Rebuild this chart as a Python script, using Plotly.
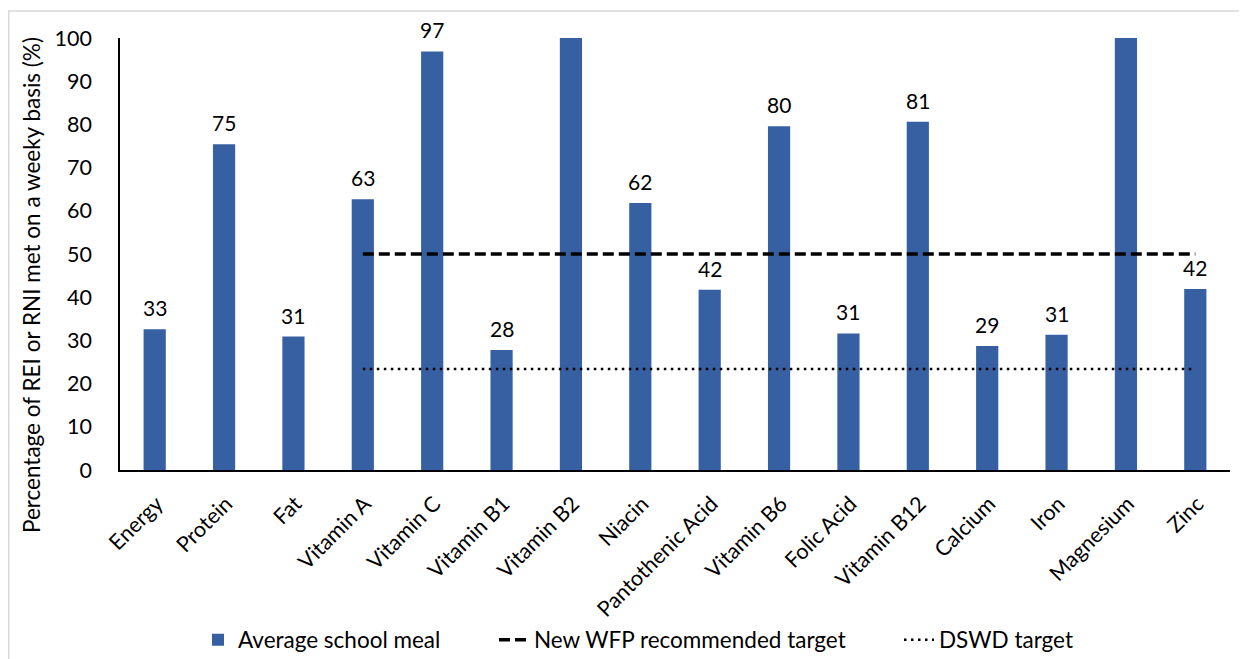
import plotly.graph_objects as go

categories = ["Energy", "Protein", "Fat", "Vitamin A", "Vitamin C", "Vitamin B1",
              "Vitamin B2", "Niacin", "Pantothenic Acid", "Vitamin B6", "Folic Acid",
              "Vitamin B12", "Calcium", "Iron", "Magnesium", "Zinc"]
meal_values = [32.6, 75.4, 30.9, 62.7, 96.9, 27.8, 100, 61.8, 41.7, 79.6, 31.6,
               80.6, 28.7, 31.3, 100, 41.9]
meal_labels = ["33", "75", "31", "63", "97", "28", "", "62", "42", "80", "31",
               "81", "29", "31", "", "42"]
target_categories = categories[3:]
wfp_target = [50] * len(target_categories)
dswd_target = [23.4] * len(target_categories)
y_ticks = [0, 10, 20, 30, 40, 50, 60, 70, 80, 90, 100]
y_title = "Percentage of REI or RNI met on a weeky basis (%)"

FONT = "Lato"
BLUE = "#3760A3"

# page body adds an 8px margin, so the figure is 8px smaller than the window
W, H = 1239, 651
ML, MT, MR, MB = 112, 30, 17, 189
PW = W - ML - MR
PH = H - MT - MB

fig = go.Figure()
fig.add_trace(go.Bar(
    x=categories, y=meal_values, name="Average school meal",
    marker=dict(color=BLUE, line=dict(width=0)),
    width=0.32, legend="legend",
))
fig.add_trace(go.Scatter(
    x=target_categories, y=wfp_target, mode="lines",
    name="New WFP recommended target",
    line=dict(color="black", width=3.5, dash="11px,5px"), legend="legend2",
))
fig.add_trace(go.Scatter(
    x=target_categories, y=dswd_target, mode="lines",
    name="DSWD target",
    line=dict(color="black", width=2.5, dash="2.5px,4.5px"), legend="legend3",
))

annotations = []
for cat, val, lab in zip(categories, meal_values, meal_labels):
    if lab:
        annotations.append(dict(x=cat, y=val, xref="x", yref="y", text=lab,
                                showarrow=False, yanchor="bottom", yshift=7,
                                font=dict(family=FONT, size=21, color="black")))
annotations.append(dict(x=(23 - ML) / PW, y=1 - (277 - MT) / PH, xref="paper", yref="paper",
                        text=y_title, showarrow=False, textangle=-90,
                        xanchor="center", yanchor="middle",
                        font=dict(family=FONT, size=22.5, color="black")))

leg_y = 1 - (632 - MT) / PH
leg_common = dict(orientation="h", yanchor="middle", xanchor="left", y=leg_y,
                  font=dict(family=FONT, size=22.5, color="black"),
                  bgcolor="rgba(0,0,0,0)", itemwidth=30)

fig.update_layout(
    width=W, height=H,
    margin=dict(l=ML, r=MR, t=MT, b=MB, autoexpand=False),
    paper_bgcolor="white", plot_bgcolor="white",
    font=dict(family=FONT, size=18, color="black"),
    showlegend=True,
    legend=dict(leg_common, x=(190 - ML) / PW),
    legend2=dict(leg_common, x=(486 - ML) / PW),
    legend3=dict(leg_common, x=(891 - ML) / PW),
    xaxis=dict(
        showline=True, linecolor="black", linewidth=1.5, automargin=False,
        tickangle=-45, ticks="", showgrid=False,
        ticklabelstandoff=11, ticklabelshift=2,
        tickfont=dict(family=FONT, size=21.5, color="black"),
        range=[-0.5, 15.5],
    ),
    yaxis=dict(
        range=[0, 100], tickvals=y_ticks, showline=True, linecolor="black",
        linewidth=1.5, showgrid=False, zeroline=False, ticks="", automargin=False,
        ticklabelstandoff=22,
        tickfont=dict(family=FONT, size=21.5, color="black"),
    ),
    annotations=annotations,
    shapes=[dict(type="rect", xref="paper", yref="paper",
                 x0=(0.75 - ML) / PW, x1=1.2, y0=-0.7, y1=1 + (MT - 3) / PH,
                 line=dict(color="#D9D9D9", width=1.5), layer="below")],
)

fig.write_html("out.html")
